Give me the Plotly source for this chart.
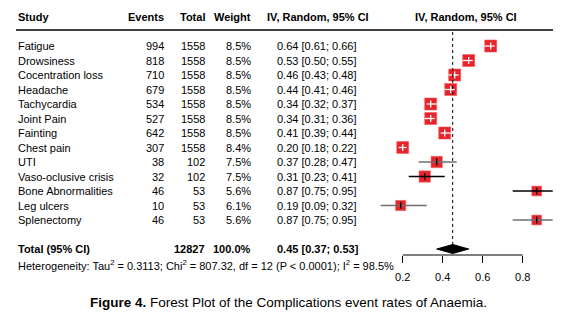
import plotly.graph_objects as go

studies = ["Fatigue", "Drowsiness", "Cocentration loss", "Headache", "Tachycardia",
           "Joint Pain", "Fainting", "Chest pain", "UTI", "Vaso-oclusive crisis",
           "Bone Abnormalities", "Leg ulcers", "Splenectomy"]
events = [994, 818, 710, 679, 534, 527, 642, 307, 38, 32, 46, 10, 46]
totals = [1558, 1558, 1558, 1558, 1558, 1558, 1558, 1558, 102, 102, 53, 53, 53]
weights = [8.5, 8.5, 8.5, 8.5, 8.5, 8.5, 8.5, 8.4, 7.5, 7.5, 5.6, 6.1, 5.6]
est = [0.64, 0.53, 0.46, 0.44, 0.34, 0.34, 0.41, 0.20, 0.37, 0.31, 0.87, 0.19, 0.87]
lo = [0.61, 0.50, 0.43, 0.41, 0.32, 0.31, 0.39, 0.18, 0.28, 0.23, 0.75, 0.09, 0.75]
hi = [0.66, 0.55, 0.48, 0.46, 0.37, 0.36, 0.44, 0.22, 0.47, 0.41, 0.95, 0.32, 0.95]
total_n = 12827
total_weight = "100.0%"
pooled = (0.45, 0.37, 0.53)
axis_ticks = [0.2, 0.4, 0.6, 0.8]
heterogeneity = ("Heterogeneity: Tau<sup>2</sup> = 0.3113; Chi<sup>2</sup> = 807.32, "
                 "df = 12 (P &lt; 0.0001); I<sup>2</sup> = 98.5%")
caption = "<b>Figure 4.</b> Forest Plot of the Complications event rates of Anaemia."

W, H = 575, 328
FONT = "Liberation Sans, Arial, sans-serif"
RED = "#e8232a"

# layout geometry (pixels)
x0px, pxu = 402.7, 200.0          # pixel of value 0.2, pixels per unit
row0, rowh = 46.0, 14.5           # first row centre, row spacing
axis_px = 255.0
xr = [0.2 - x0px / pxu, 0.2 + (W - x0px) / pxu]
ybot = (axis_px - row0) / rowh
ytop = (0 - row0) / rowh
ydom0 = (H - axis_px) / H

fig = go.Figure()

n = len(studies)
base = 12.0
for i in range(n):
    size = base * (weights[i] / 8.5) ** 0.5
    half = size / 2 / pxu
    inside = (est[i] - lo[i]) <= half + 0.006 and (hi[i] - est[i]) <= half + 0.006
    fig.add_trace(go.Scatter(
        x=[est[i]], y=[i], mode="markers",
        marker=dict(symbol="square", size=size, color=RED,
                    line=dict(width=0.6, color="#ee5a5e")),
        showlegend=False, hoverinfo="skip", cliponaxis=False))
    col = "white" if inside else ("#000000" if i in (9, 10) else "#6f6f6f")
    fig.add_trace(go.Scatter(
        x=[lo[i], hi[i]], y=[i, i], mode="lines",
        line=dict(color=col, width=1.3), showlegend=False, hoverinfo="skip"))
    fig.add_trace(go.Scatter(
        x=[est[i]], y=[i], mode="markers",
        marker=dict(symbol="line-ns", size=5,
                    line=dict(width=1.3, color="white" if inside else "#000000")),
        showlegend=False, hoverinfo="skip", cliponaxis=False))

# pooled diamond
trow = n + 1
dh = 0.31
fig.add_trace(go.Scatter(
    x=[pooled[1], pooled[0], pooled[2], pooled[0], pooled[1]],
    y=[trow, trow - dh, trow, trow + dh, trow],
    mode="lines", fill="toself", fillcolor="black",
    line=dict(color="black", width=1), showlegend=False, hoverinfo="skip"))

# dotted reference line at pooled estimate
fig.add_shape(type="line", xref="x", yref="y", x0=pooled[0], x1=pooled[0],
              y0=-0.97, y1=trow - 0.05, line=dict(color="black", width=1, dash="dot"))
# header rule
fig.add_shape(type="line", xref="paper", yref="y", x0=16 / W, x1=553 / W,
              y0=-1.1, y1=-1.1, line=dict(color="black", width=1.5))
# x axis line
fig.add_shape(type="line", xref="x", yref="paper", x0=axis_ticks[0], x1=axis_ticks[-1],
              y0=ydom0, y1=ydom0, line=dict(color="black", width=1))

ann = []
def txt(x, y, s, anchor="left", bold=False, size=11):
    ann.append(dict(x=x / W, y=y, xref="paper", yref="y", text=f"<b>{s}</b>" if bold else s,
                    showarrow=False, xanchor=anchor, yanchor="middle",
                    font=dict(family=FONT, size=size, color="black")))

hdr = -2.0
txt(16, hdr, "Study", bold=True)
txt(166, hdr, "Events", "right", bold=True)
txt(207, hdr, "Total", "right", bold=True)
txt(253, hdr, "Weight", "right", bold=True)
txt(317.5, hdr, "IV, Random, 95% CI", "center", bold=True)
txt(466, hdr, "IV, Random, 95% CI", "center", bold=True)

for i in range(n):
    txt(16, i, studies[i])
    txt(166, i, str(events[i]), "right")
    txt(207, i, str(totals[i]), "right")
    txt(253, i, f"{weights[i]:.1f}%", "right")
    txt(275, i, f"{est[i]:.2f} [{lo[i]:.2f}; {hi[i]:.2f}]")

txt(16, trow, "Total (95% CI)", bold=True)
txt(207, trow, str(total_n), "right", bold=True)
txt(253, trow, total_weight, "right", bold=True)
txt(275, trow, f"{pooled[0]:.2f} [{pooled[1]:.2f}; {pooled[2]:.2f}]", bold=True)

# heterogeneity line (below the plotted row range, so paper coordinates)
ann.append(dict(x=16 / W, y=(H - 265) / H, xref="paper", yref="paper", text=heterogeneity,
                showarrow=False, xanchor="left", yanchor="middle",
                font=dict(family=FONT, size=11, color="black")))

ann.append(dict(x=288 / W, y=(H - 302) / H, xref="paper", yref="paper", text=caption,
                showarrow=False, xanchor="center", yanchor="middle",
                font=dict(family=FONT, size=13.5, color="black")))

fig.update_layout(
    width=W, height=H, margin=dict(l=0, r=0, t=0, b=0),
    paper_bgcolor="white", plot_bgcolor="white",
    annotations=ann, showlegend=False,
    xaxis=dict(domain=[0, 1], range=xr, showgrid=False, zeroline=False, showline=False,
               tickvals=axis_ticks, ticktext=[f"{v:.1f}" for v in axis_ticks],
               ticks="outside", ticklen=7, tickcolor="black", tickwidth=1,
               ticklabelstandoff=5,
               tickfont=dict(family=FONT, size=11, color="black"), fixedrange=True),
    yaxis=dict(domain=[ydom0, 1], range=[ybot, ytop], showgrid=False, zeroline=False,
               showline=False, showticklabels=False, ticks="", fixedrange=True),
)

fig.write_html("out.html")
